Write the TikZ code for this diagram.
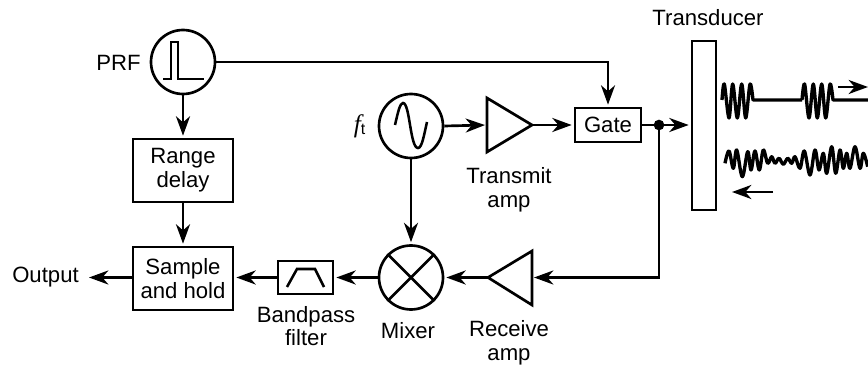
\documentclass[tikz,border=0pt]{standalone}
\usepackage{fontspec}
\setmainfont{Liberation Sans}
\newfontfamily\serifit{Liberation Serif}
\usetikzlibrary{arrows.meta,calc}
\tikzset{
  ln/.style={line width=2pt,line join=miter},
  con/.style={ln,-{Stealth[length=14.5pt,width=10.5pt,inset=4.5pt]},shorten >=1.5pt},
  thin line/.style={line width=1.9pt},
  circ/.style={ln,draw,circle,minimum size=48pt,inner sep=0pt},
  bx/.style={ln,draw,inner sep=0pt,align=center,font=\fontsize{16.6}{17.8}\selectfont},
  lab/.style={inner sep=0pt,align=center,font=\fontsize{16.6}{17.8}\selectfont},
  wav/.style={line width=2.5pt,line join=round},
}
\begin{document}
\begin{tikzpicture}[x=0.75pt,y=-0.75pt]
\useasboundingbox (0,0) rectangle (868,367);
% nodes
\node[circ] (prf) at (183,62) {};
\node[circ] (ft) at (411,126) {};
\node[circ] (mix) at (411,277.5) {};
\node[bx,minimum width=75pt,minimum height=47.25pt] (range) at (183,170.5) {Range\\delay};
\node[bx,minimum width=75pt,minimum height=47.25pt] (sample) at (183,278.5) {Sample\\and hold};
\node[bx,minimum width=49.5pt,minimum height=25.5pt] (gate) at (608,125) {Gate};
\node[bx,minimum width=41.25pt,minimum height=24.5pt] (filter) at (305.5,277.5) {};
\node[ln,draw,inner sep=0pt,minimum width=18pt,minimum height=126.75pt] (trans) at (704,125.5) {};
\node[circle,fill=black,inner sep=0pt,minimum size=8pt] (dot) at (659,125) {};
% triangles
\coordinate (txin) at (487,125);
\coordinate (txout) at (532,125);
\coordinate (rxin) at (532,277.5);
\coordinate (rxout) at (488,277.5);
\draw[ln] (487,98) -- (txout) -- (487,152) -- cycle;
\draw[ln] (532,251) -- (rxout) -- (532,305) -- cycle;
% glyphs inside shapes
\draw[thin line] (163,79) -- (171,79) -- (171,42) -- (178,42) -- (178,79) -- (204,79);
\draw[thin line] (395,125) .. controls (398,112) and (400,103) .. (403,103)
  .. controls (410,103) and (410,148) .. (418,148) .. controls (422,148) and (424,135) .. (427,122);
\draw[thin line] (mix.45) -- (mix.225) (mix.135) -- (mix.315);
\draw[thin line] (287,287) -- (297,269) -- (315,269) -- (324,287);
% connectors
\draw[con] (prf.south) -- (range.north);
\draw[con] (range.south) -- (sample.north);
\draw[con] (prf.east) -| (gate.north);
\draw[con] (ft.east) -- (txin);
\draw[con] (txout) -- (gate.west);
\draw[ln] (gate.east) -- (dot.center);
\draw[con] (dot.center) -- (trans.west |- dot.center);
\draw[con] (ft.south) -- (mix.north);
\coordinate (outend) at (87,277.5);
\draw[con] (sample.west |- outend) -- (outend);
\draw[con] (filter.west) -- (sample.east |- filter.west);
\draw[con] (mix.west) -- (filter.east);
\draw[con] (rxout) -- (mix.east);
\draw[con] (dot.center) |- (rxin);
% waves
\draw[wav] plot[smooth,tension=0.55] coordinates {(722,100) (724.3,84) (729,118) (732.7,84) (737.3,118) (741.7,84) (745.7,118) (750,84) (753,100)}
  -- (802,100)
  plot[smooth,tension=0.55] coordinates {(802,100) (804.6,84) (809,118) (813.3,84) (817.3,118) (821.7,84) (825.7,118) (830,84) (833,100)}
  -- (868,100);
\draw[wav] plot[smooth,tension=0.6] coordinates {(725,163.3) (729,151) (733.3,168.3) (736.7,150) (742.3,176.7) (747.7,151.7) (751,170) (755,151) (759.3,170) (763.3,150) (767.7,163.3) (771.7,156.7) (775,163.3) (779,158.3) (783.3,164.3) (787.7,158.3) (791.7,163.3) (795,156.7) (800,168.3) (804.3,151) (810,175) (815,150) (819,170) (823.3,153.3) (826.7,173.3) (831.7,146.7) (835.7,173.3) (840,150) (843.3,168.3) (846.7,153.3) (850,168.3) (855,146.7) (860,168.3) (863.3,153.3) (867.7,166.7)};
\coordinate (w1a) at (838,87); \coordinate (w1b) at (870,87);
\coordinate (w2a) at (773,192); \coordinate (w2b) at (730,192);
\draw[con] (w1a) -- (w1b);
\draw[con] (w2a) -- (w2b);
% labels
\node[lab] (lprf) at (118.5,63) {PRF};
\node[lab] (lft) at (359.5,126) {{\serifit\itshape\fontsize{19}{19}\selectfont f}\raisebox{-2pt}{\fontsize{12}{12}\selectfont t}};
\node[lab] (ltx) at (509,189.5) {Transmit\\amp};
\node[lab] (lrx) at (509,343) {Receive\\amp};
\node[lab] (lbp) at (306,326) {Bandpass\\filter};
\node[lab] (lmx) at (408,331) {Mixer};
\node[lab] (lout) at (45.5,277.5) {Output};
\node[lab] (ltr) at (708,18) {Transducer};
\end{tikzpicture}
\end{document}
